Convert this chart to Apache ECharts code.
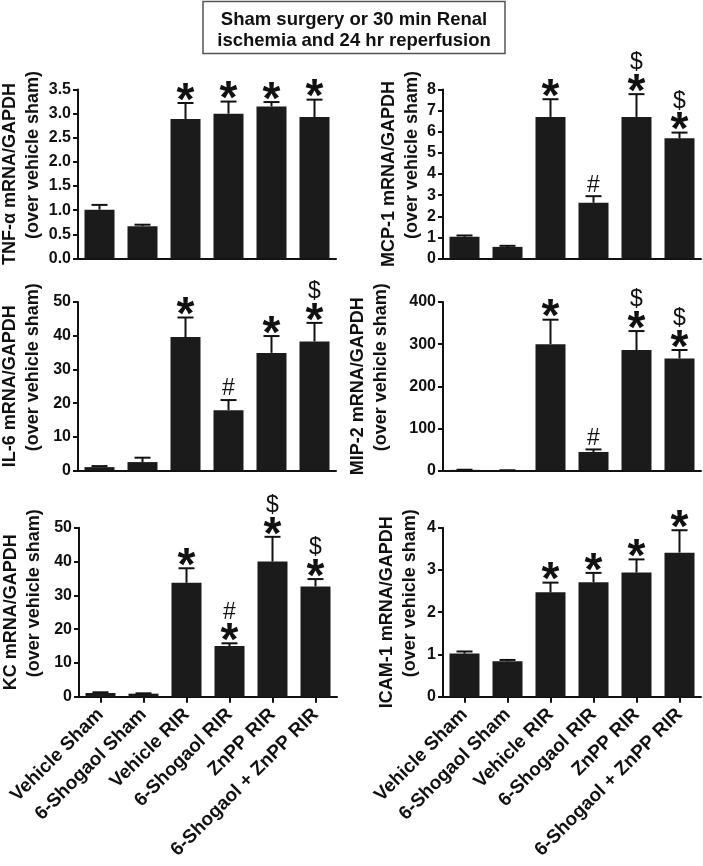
<!DOCTYPE html>
<html>
<head>
<meta charset="utf-8">
<script src="https://cdn.jsdelivr.net/npm/echarts@6/dist/echarts.min.js"></script>
<style>
html,body{margin:0;padding:0;background:#fff;}
#chart{width:703px;height:866px;}
</style>
</head>
<body>
<div id="chart"></div>
<script>
// ---- data ----
const categories = ['Vehicle Sham', '6-Shogaol Sham', 'Vehicle RIR', '6-Shogaol RIR', 'ZnPP RIR', '6-Shogaol + ZnPP RIR'];

const tnfMean = [1.01, 0.67, 2.89, 3.00, 3.15, 2.93];
const tnfSem  = [0.10, 0.03, 0.33, 0.25, 0.09, 0.36];
const tnfMarks = ['', '', '*', '*', '*', '*'];
const tnfTicks = [0, 3.5, 0.5];

const mcpMean = [1.03, 0.55, 6.70, 2.64, 6.70, 5.69];
const mcpSem  = [0.06, 0.05, 0.84, 0.31, 1.08, 0.27];
const mcpMarks = ['', '', '*', '#', '*$', '*$'];
const mcpTicks = [0, 8, 1];

const il6Mean = [1.0, 2.5, 39.6, 17.9, 34.9, 38.3];
const il6Sem  = [0.3, 1.3, 5.8, 3.0, 5.0, 5.5];
const il6Marks = ['', '', '*', '#', '*', '*$'];
const il6Ticks = [0, 50, 10];

const mip2Mean = [1.5, 0.5, 300, 44, 286, 266];
const mip2Sem  = [0.3, 0.1, 58, 6, 45, 20];
const mip2Marks = ['', '', '*', '#', '*$', '*$'];
const mip2Ticks = [0, 400, 100];

const kcMean = [1.1, 0.9, 33.7, 15.0, 40.0, 32.6];
const kcSem  = [0.2, 0.1, 4.3, 0.8, 7.3, 2.2];
const kcMarks = ['', '', '*', '*#', '*$', '*$'];
const kcTicks = [0, 50, 10];

const icamMean = [1.02, 0.84, 2.47, 2.71, 2.94, 3.41];
const icamSem  = [0.05, 0.03, 0.23, 0.22, 0.31, 0.53];
const icamMarks = ['', '', '*', '*', '*', '*'];
const icamTicks = [0, 4, 1];

const titleLines = ['Sham surgery or 30 min Renal', 'ischemia and 24 hr reperfusion'];
const nameSub = '(over vehicle sham)';

// ---- layout / style ----
const FONT = '"Liberation Sans", Arial, Helvetica, sans-serif';
const INK = '#111';

const panels = [
  {name: 'TNF-α mRNA/GAPDH', mean: tnfMean, sem: tnfSem, marks: tnfMarks, ticks: tnfTicks, dec: 1,
   grid: {left: 78, top: 89.5, width: 258, height: 169}, nameGap: 33, bottom: false},
  {name: 'MCP-1 mRNA/GAPDH', mean: mcpMean, sem: mcpSem, marks: mcpMarks, ticks: mcpTicks, dec: 0,
   grid: {left: 443, top: 89.5, width: 258, height: 169}, nameGap: 19, bottom: false},
  {name: 'IL-6 mRNA/GAPDH', mean: il6Mean, sem: il6Sem, marks: il6Marks, ticks: il6Ticks, dec: 0,
   grid: {left: 78, top: 302, width: 258, height: 168.5}, nameGap: 33, bottom: false},
  {name: 'MIP-2 mRNA/GAPDH', mean: mip2Mean, sem: mip2Sem, marks: mip2Marks, ticks: mip2Ticks, dec: 0,
   grid: {left: 443, top: 302, width: 258, height: 168.5}, nameGap: 50, bottom: false},
  {name: 'KC mRNA/GAPDH', mean: kcMean, sem: kcSem, marks: kcMarks, ticks: kcTicks, dec: 0,
   grid: {left: 79, top: 527.7, width: 258, height: 169}, nameGap: 33, bottom: true},
  {name: 'ICAM-1 mRNA/GAPDH', mean: icamMean, sem: icamSem, marks: icamMarks, ticks: icamTicks, dec: 0,
   grid: {left: 443, top: 527.7, width: 258, height: 169}, nameGap: 21, bottom: true}
];

const grids = [], xAxes = [], yAxes = [], series = [];

panels.forEach((p, k) => {
  grids.push(Object.assign({containLabel: false, outerBoundsMode: 'none'}, p.grid));
  xAxes.push({
    type: 'category', gridIndex: k, data: categories,
    axisLine: {show: true, lineStyle: {color: INK, width: 2}},
    axisTick: {show: p.bottom, alignWithLabel: true, length: 6, lineStyle: {color: INK, width: 2}},
    axisLabel: {show: p.bottom, rotate: 45, interval: 0, margin: 15,
      fontFamily: FONT, fontWeight: 'bold', fontSize: 19, color: INK},
    splitLine: {show: false}
  });
  yAxes.push({
    type: 'value', gridIndex: k, min: p.ticks[0], max: p.ticks[1], interval: p.ticks[2],
    axisLine: {show: true, lineStyle: {color: INK, width: 2}},
    axisTick: {show: true, length: 5, lineStyle: {color: INK, width: 2}},
    axisLabel: {margin: 7, fontFamily: FONT, fontWeight: 'bold', fontSize: 16, color: INK,
      formatter: v => v.toFixed(p.dec)},
    splitLine: {show: false},
    name: '{a|' + p.name + '}\n{b|' + nameSub + '}',
    nameLocation: 'middle', nameGap: p.nameGap, nameRotate: 90,
    nameMoveOverlap: false,
    nameTextStyle: {fontFamily: FONT, fontWeight: 'bold', fontSize: 18, color: INK, lineHeight: 23,
      rich: {
        a: {fontFamily: FONT, fontWeight: 'bold', fontSize: 18, color: INK, lineHeight: 23},
        b: {fontFamily: FONT, fontWeight: 'bold', fontSize: 18, color: INK, lineHeight: 23, padding: [0, 0, 0, 38]}
      }}
  });
  const rows = p.mean.map((m, i) => [i, m, p.sem[i]]);
  series.push({
    type: 'bar', xAxisIndex: k, yAxisIndex: k, data: p.mean, barWidth: 30,
    itemStyle: {color: '#1b1b1b'}, silent: true
  });
  series.push({
    type: 'custom', xAxisIndex: k, yAxisIndex: k, data: rows, silent: true, z: 3,
    renderItem: (params, api) => {
      const i = api.value(0);
      const base = api.coord([i, api.value(1)]);
      const top = api.coord([i, api.value(1) + api.value(2)]);
      const cap = 8;
      return {type: 'group', children: [
        {type: 'line', shape: {x1: base[0], y1: base[1], x2: top[0], y2: top[1]},
         style: {stroke: INK, lineWidth: 2}},
        {type: 'line', shape: {x1: top[0] - cap, y1: top[1], x2: top[0] + cap, y2: top[1]},
         style: {stroke: INK, lineWidth: 2}}
      ]};
    }
  });
  series.push({
    type: 'custom', xAxisIndex: k, yAxisIndex: k, data: rows, silent: true, z: 4, clip: false,
    renderItem: (params, api) => {
      const i = api.value(0);
      const top = api.coord([i, api.value(1) + api.value(2)]);
      const mk = p.marks[i];
      const kids = [];
      const hasStar = mk.indexOf('*') >= 0;
      if (hasStar) {
        kids.push({type: 'text', style: {text: '*', x: top[0], y: top[1] - 1,
          font: 'bold 46px ' + FONT, fill: INK, align: 'center', verticalAlign: 'middle'}});
      }
      const other = mk.replace('*', '');
      if (other) {
        kids.push({type: 'text', style: {text: other, x: top[0], y: top[1] - (hasStar ? 31 : 11),
          font: '23px ' + FONT, fill: INK, align: 'center', verticalAlign: 'middle'}});
      }
      return {type: 'group', children: kids};
    }
  });
});

const chart = echarts.init(document.getElementById('chart'), null, {renderer: 'canvas'});
chart.setOption({
  animation: false,
  backgroundColor: '#fff',
  grid: grids, xAxis: xAxes, yAxis: yAxes, series: series,
  graphic: [
    {type: 'rect', shape: {x: 203, y: 1.5, width: 302, height: 52},
     style: {fill: '#fff', stroke: '#555', lineWidth: 1.5}},
    {type: 'text', style: {text: titleLines[0], x: 354, y: 20, align: 'center', verticalAlign: 'middle',
      font: 'bold 18.5px ' + FONT, fill: INK}},
    {type: 'text', style: {text: titleLines[1], x: 354, y: 41, align: 'center', verticalAlign: 'middle',
      font: 'bold 18.5px ' + FONT, fill: INK}}
  ]
});
</script>
</body>
</html>
